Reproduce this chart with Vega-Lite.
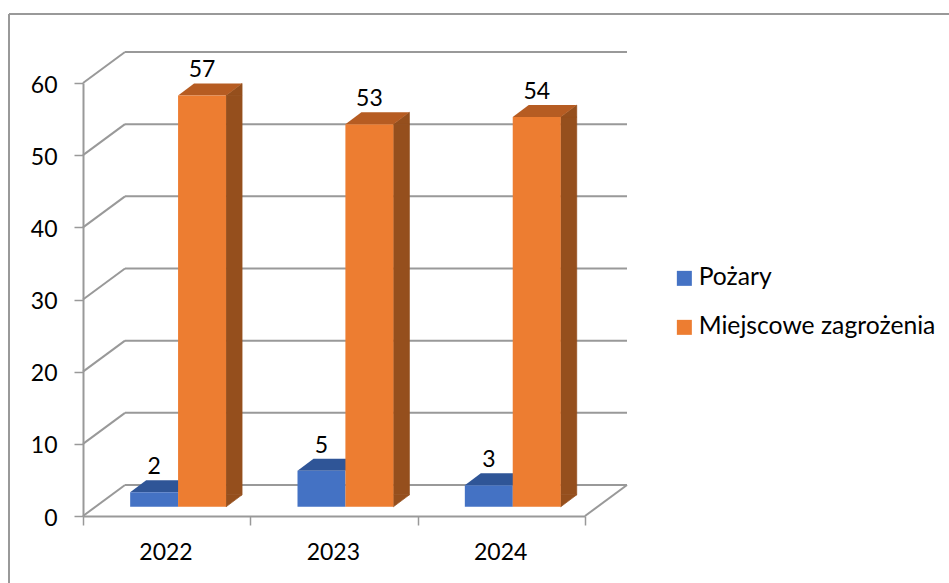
{"$schema":"https://vega.github.io/schema/vega-lite/v6.json","width":502,"height":433,"autosize":{"type":"none"},"padding":{"left":83,"top":83,"right":364,"bottom":67},"background":"white","config":{"view":{"stroke":null},"font":"Lato"},"datasets":{"one":[{"k":1}],"bars":[{"year":2022,"series":"Pożary","value":2},{"year":2022,"series":"Miejscowe zagrożenia","value":57},{"year":2023,"series":"Pożary","value":5},{"year":2023,"series":"Miejscowe zagrożenia","value":53},{"year":2024,"series":"Pożary","value":3},{"year":2024,"series":"Miejscowe zagrożenia","value":54}],"grid":[{"v":0},{"v":10},{"v":20},{"v":30},{"v":40},{"v":50},{"v":60}]},"layer":[{"data":{"name":"grid"},"mark":{"type":"rule","color":"#999999","strokeWidth":2,"xOffset":42,"x2Offset":42,"yOffset":-31},"encoding":{"x":{"datum":2021.5,"type":"quantitative","scale":{"domain":[2021.5,2024.5],"nice":false,"zero":false,"padding":0},"axis":{"title":null,"values":[2021.5,2022.5,2023.5,2024.5],"labelExpr":"datum.value < 2024 ? format(datum.value + 0.5, 'd') : ''","labelOffset":82.5,"labelFontSize":23,"labelColor":"#000000","labelPadding":16,"labelFlush":false,"labelOverlap":false,"tickSize":9,"tickColor":"#999999","tickWidth":1.5,"domainColor":"#999999","domainWidth":2,"grid":false}},"x2":{"datum":2024.5},"y":{"field":"v","type":"quantitative","scale":{"domain":[0,60],"nice":false},"axis":{"title":null,"values":[0,10,20,30,40,50,60],"labelFontSize":23,"labelColor":"#000000","labelPadding":17,"labelOffset":2,"tickSize":9,"tickColor":"#999999","tickWidth":1.5,"domainColor":"#999999","domainWidth":2,"grid":false,"labelFlush":false}}}},{"data":{"name":"grid"},"mark":{"type":"rule","color":"#999999","strokeWidth":2,"x2Offset":42,"y2Offset":-31},"encoding":{"x":{"datum":2021.5,"type":"quantitative"},"x2":{"datum":2021.5},"y":{"field":"v","type":"quantitative"},"y2":{"field":"v"}}},{"data":{"name":"one"},"mark":{"type":"rule","color":"#999999","strokeWidth":2,"x2Offset":42,"y2Offset":-31},"encoding":{"x":{"datum":2024.5,"type":"quantitative"},"x2":{"datum":2024.5},"y":{"datum":0,"type":"quantitative"},"y2":{"datum":0}}},{"data":{"name":"one"},"mark":{"type":"rule","color":"#999999","strokeWidth":2,"yOffset":-69,"xOffset":-74,"x2Offset":370},"encoding":{"x":{"datum":2021.5,"type":"quantitative"},"x2":{"datum":2024.5},"y":{"datum":60,"type":"quantitative"}}},{"data":{"name":"one"},"mark":{"type":"rule","color":"#999999","strokeWidth":2,"xOffset":-74,"yOffset":-69,"y2Offset":70},"encoding":{"x":{"datum":2021.5,"type":"quantitative"},"y":{"datum":60,"type":"quantitative"},"y2":{"datum":0}}},{"data":{"name":"bars"},"transform":[{"filter":"datum.series === 'Pożary'"}],"mark":{"type":"point","shape":"M-24,0L24,0L40,-12L-8,-12Z","size":4,"filled":true,"opacity":1,"fill":"#2F5597","xOffset":-12.5,"yOffset":-9.2},"encoding":{"x":{"field":"year","type":"quantitative"},"y":{"field":"value","type":"quantitative"}}},{"data":{"name":"bars"},"transform":[{"filter":"datum.series === 'Pożary'"}],"mark":{"type":"bar","orient":"vertical","width":48,"xOffset":-12.5,"yOffset":-9.2,"y2Offset":-9.2},"encoding":{"x":{"field":"year","type":"quantitative"},"y":{"field":"value","type":"quantitative"},"y2":{"datum":0},"color":{"field":"series","type":"nominal","scale":{"domain":["Pożary","Miejscowe zagrożenia"],"range":["#4472C4","#ED7D31"]},"legend":{"title":null,"orient":"none","legendX":589,"legendY":183,"symbolType":"square","symbolSize":225,"symbolStrokeWidth":0,"labelFontSize":24.7,"labelColor":"#000000","labelOffset":2,"rowPadding":23,"labelLimit":300}}}},{"data":{"name":"bars"},"transform":[{"filter":"datum.series !== 'Pożary'"}],"mark":{"type":"bar","orient":"vertical","width":16,"color":"#954F1D","stroke":"#954F1D","strokeWidth":0.7,"xOffset":67.4,"yOffset":-9.2,"y2Offset":-21.2},"encoding":{"x":{"field":"year","type":"quantitative"},"y":{"field":"value","type":"quantitative"},"y2":{"datum":0}}},{"data":{"name":"bars"},"transform":[{"filter":"datum.series !== 'Pożary'"}],"mark":{"type":"point","shape":"M24,0L40,-12L40,0Z","size":4,"filled":true,"opacity":1,"fill":"#954F1D","stroke":"#954F1D","strokeWidth":0.7,"xOffset":35.4,"yOffset":-9.2},"encoding":{"x":{"field":"year","type":"quantitative"},"y":{"field":"value","type":"quantitative"}}},{"data":{"name":"bars"},"transform":[{"filter":"datum.series !== 'Pożary'"}],"mark":{"type":"point","shape":"M24,-12L40,-12L24,0Z","size":4,"filled":true,"opacity":1,"fill":"#954F1D","stroke":"#954F1D","strokeWidth":0.7,"xOffset":35.4,"yOffset":-9.2},"encoding":{"x":{"field":"year","type":"quantitative"},"y":{"datum":0,"type":"quantitative"}}},{"data":{"name":"bars"},"transform":[{"filter":"datum.series !== 'Pożary'"}],"mark":{"type":"point","shape":"M-24,0L24,0L40,-12L-8,-12Z","size":4,"filled":true,"opacity":1,"fill":"#B65C22","xOffset":35.4,"yOffset":-9.2},"encoding":{"x":{"field":"year","type":"quantitative"},"y":{"field":"value","type":"quantitative"}}},{"data":{"name":"bars"},"transform":[{"filter":"datum.series !== 'Pożary'"}],"mark":{"type":"bar","orient":"vertical","width":48,"xOffset":35.4,"yOffset":-9.2,"y2Offset":-9.2},"encoding":{"x":{"field":"year","type":"quantitative"},"y":{"field":"value","type":"quantitative"},"y2":{"datum":0},"color":{"field":"series","type":"nominal"}}},{"data":{"name":"bars"},"transform":[{"filter":"datum.series === 'Pożary'"}],"mark":{"type":"text","fontSize":23,"color":"#000000","baseline":"alphabetic","xOffset":-12.5,"yOffset":-27.2},"encoding":{"x":{"field":"year","type":"quantitative"},"y":{"field":"value","type":"quantitative"},"text":{"field":"value"}}},{"data":{"name":"bars"},"transform":[{"filter":"datum.series !== 'Pożary'"}],"mark":{"type":"text","fontSize":23,"color":"#000000","baseline":"alphabetic","xOffset":35.4,"yOffset":-27.2},"encoding":{"x":{"field":"year","type":"quantitative"},"y":{"field":"value","type":"quantitative"},"text":{"field":"value"}}}]}
